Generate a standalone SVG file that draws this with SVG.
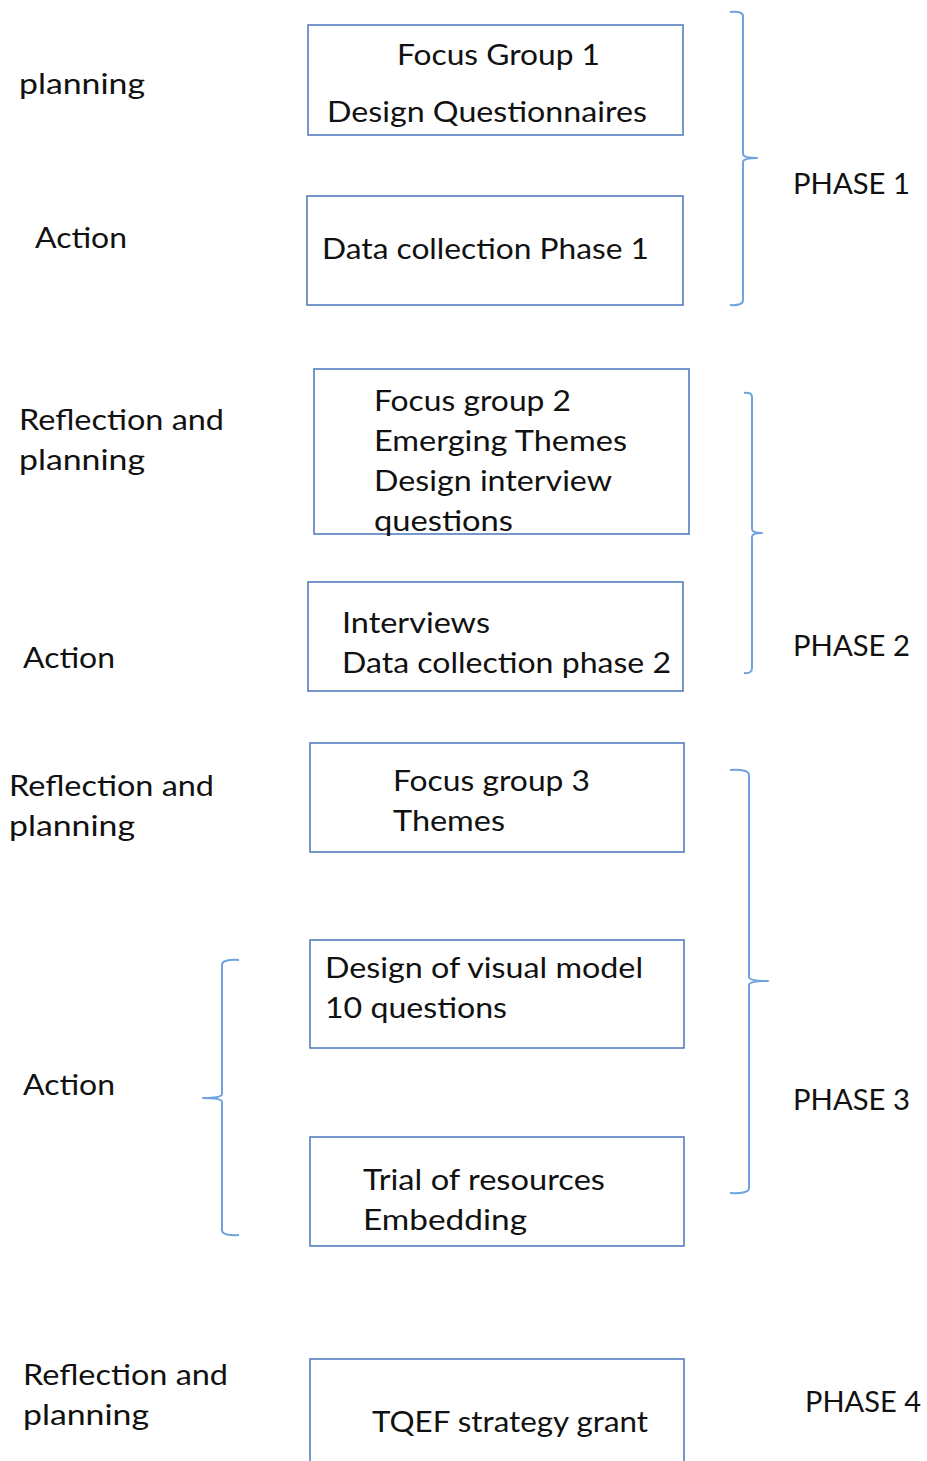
<svg xmlns="http://www.w3.org/2000/svg" width="927" height="1461" viewBox="0 0 927 1461">
  <style>
    .box { fill: #ffffff; stroke: #4a76b8; stroke-width: 1.5; }
    .brace { fill: none; stroke: #6fa3dc; stroke-width: 2; stroke-linejoin: round; }
    text { font-family: Lato, "Open Sans", "Liberation Sans", sans-serif; font-size: 28px; fill: #111111; }
  </style>
  <rect width="927" height="1461" fill="#ffffff"/>

  <!-- stage labels on the left -->
  <g id="labels-left">
    <text x="19" y="94" textLength="126" lengthAdjust="spacingAndGlyphs">planning</text>
    <text x="35" y="248" textLength="92" lengthAdjust="spacingAndGlyphs">Action</text>
    <text x="19" y="430" textLength="205" lengthAdjust="spacingAndGlyphs">Reflection and</text>
    <text x="19" y="470" textLength="126" lengthAdjust="spacingAndGlyphs">planning</text>
    <text x="23" y="668" textLength="92" lengthAdjust="spacingAndGlyphs">Action</text>
    <text x="9" y="796" textLength="205" lengthAdjust="spacingAndGlyphs">Reflection and</text>
    <text x="9" y="836" textLength="126" lengthAdjust="spacingAndGlyphs">planning</text>
    <text x="23" y="1095" textLength="92" lengthAdjust="spacingAndGlyphs">Action</text>
    <text x="23" y="1385" textLength="205" lengthAdjust="spacingAndGlyphs">Reflection and</text>
    <text x="23" y="1425" textLength="126" lengthAdjust="spacingAndGlyphs">planning</text>
  </g>

  <!-- phase labels on the right -->
  <g id="labels-right">
    <text x="793" y="194" textLength="117" lengthAdjust="spacingAndGlyphs">PHASE 1</text>
    <text x="793" y="656" textLength="117" lengthAdjust="spacingAndGlyphs">PHASE 2</text>
    <text x="793" y="1110" textLength="117" lengthAdjust="spacingAndGlyphs">PHASE 3</text>
    <text x="805" y="1412" textLength="116" lengthAdjust="spacingAndGlyphs">PHASE 4</text>
  </g>

  <g id="node-focus-group-1">
    <rect class="box" x="308" y="25" width="375" height="110"/>
    <text x="397" y="65" textLength="203" lengthAdjust="spacingAndGlyphs">Focus Group 1</text>
    <text x="327" y="122" textLength="320" lengthAdjust="spacingAndGlyphs">Design Questionnaires</text>
  </g>

  <g id="node-data-collection-1">
    <rect class="box" x="307" y="196" width="376" height="109"/>
    <text x="322" y="259" textLength="327" lengthAdjust="spacingAndGlyphs">Data collection Phase 1</text>
  </g>

  <g id="node-focus-group-2">
    <rect class="box" x="314" y="369" width="375" height="165"/>
    <text x="374" y="411" textLength="197" lengthAdjust="spacingAndGlyphs">Focus group 2</text>
    <text x="374" y="451" textLength="253" lengthAdjust="spacingAndGlyphs">Emerging Themes</text>
    <text x="374" y="491" textLength="238" lengthAdjust="spacingAndGlyphs">Design interview</text>
    <text x="374" y="531" textLength="139" lengthAdjust="spacingAndGlyphs">questions</text>
  </g>

  <g id="node-interviews">
    <rect class="box" x="308" y="582" width="375" height="109"/>
    <text x="342" y="633" textLength="148" lengthAdjust="spacingAndGlyphs">Interviews</text>
    <text x="342" y="673" textLength="329" lengthAdjust="spacingAndGlyphs">Data collection phase 2</text>
  </g>

  <g id="node-focus-group-3">
    <rect class="box" x="310" y="743" width="374" height="109"/>
    <text x="393" y="791" textLength="197" lengthAdjust="spacingAndGlyphs">Focus group 3</text>
    <text x="393" y="831" textLength="112" lengthAdjust="spacingAndGlyphs">Themes</text>
  </g>

  <g id="node-visual-model">
    <rect class="box" x="310" y="940" width="374" height="108"/>
    <text x="325" y="978" textLength="318" lengthAdjust="spacingAndGlyphs">Design of visual model</text>
    <text x="325" y="1018" textLength="182" lengthAdjust="spacingAndGlyphs">10 questions</text>
  </g>

  <g id="node-trial">
    <rect class="box" x="310" y="1137" width="374" height="109"/>
    <text x="363" y="1190" textLength="242" lengthAdjust="spacingAndGlyphs">Trial of resources</text>
    <text x="363" y="1230" textLength="164" lengthAdjust="spacingAndGlyphs">Embedding</text>
  </g>

  <g id="node-tqef">
    <rect class="box" x="310" y="1359" width="374" height="130"/>
    <text x="372" y="1432" textLength="276" lengthAdjust="spacingAndGlyphs">TQEF strategy grant</text>
  </g>

  <!-- curly braces grouping the stages -->
  <g id="connectors">
    <path class="brace" d="M730 12 Q743 11 743 16 L743 154 Q743 158 757 158 Q743 158 743 162 L743 300 Q743 306 730 305"/>
    <path class="brace" d="M744 393 Q752 392 752 397 L752 529 Q752 533 762 533 Q752 533 752 537 L752 668 Q752 674 744 673"/>
    <path class="brace" d="M730 770 Q749 769 749 775 L749 977 Q749 981 768 981 Q749 981 749 985 L749 1188 Q749 1194 730 1193"/>
    <path class="brace" d="M239 960 Q222 959 222 965 L222 1094 Q222 1098 203 1098 Q222 1098 222 1102 L222 1230 Q222 1236 239 1235"/>
  </g>
</svg>
